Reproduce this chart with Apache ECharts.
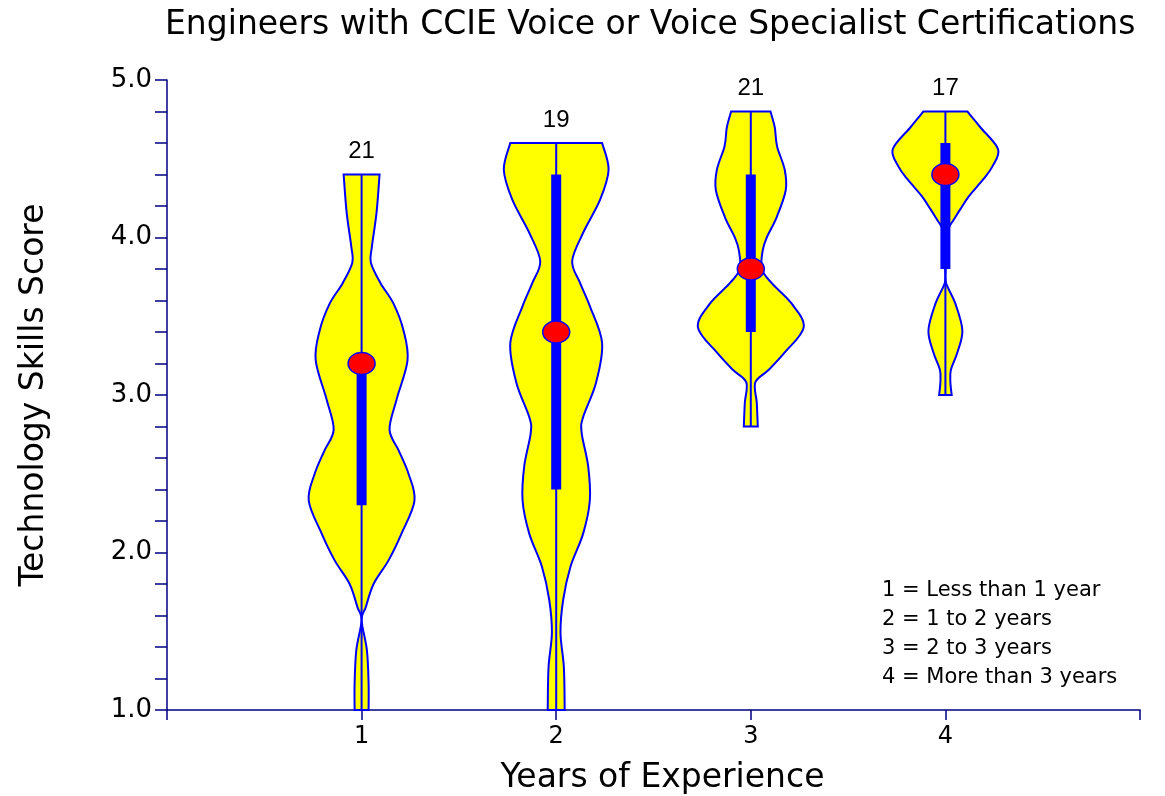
<!DOCTYPE html>
<html><head><meta charset="utf-8">
<script src="https://cdn.jsdelivr.net/npm/echarts@6/dist/echarts.min.js"></script>
<style>html,body{margin:0;padding:0;background:#fff}#c{width:1165px;height:796px}</style>
</head><body><div id="c"></div>
<script>
// ---- data ----
const groups = [1, 2, 3, 4];
const counts = [21, 19, 21, 17];
const mins = [1.0, 1.0, 2.8, 3.0];
const q1s = [2.3, 2.4, 3.4, 3.8];
const medians = [3.2, 3.4, 3.8, 4.4];
const q3s = [3.2, 4.4, 4.4, 4.6];
const maxs = [4.4, 4.6, 4.8, 4.8];
// [score, relative density (half width)]
const density1 = [[1.0,7],[1.17,7],[1.38,5.3],[1.57,0],[1.65,4],[1.80,12],[1.95,27],[2.12,40],[2.33,53],[2.50,47],[2.65,37],[2.78,28],[2.97,35],[3.22,46],[3.41,42],[3.58,32],[3.71,19],[3.84,9.3],[3.94,10.3],[4.16,15],[4.40,18]];
const density2 = [[1.0,8.5],[1.27,7.7],[1.49,4.3],[1.70,7],[1.91,14.3],[2.12,27],[2.33,33.7],[2.55,32],[2.76,25.5],[2.86,27],[3.08,40],[3.33,46],[3.56,34],[3.71,24],[3.85,16],[4.03,27],[4.24,44],[4.43,52.5],[4.60,46]];
const density3 = [[2.80,7],[2.95,6],[3.08,4.5],[3.16,18],[3.27,34],[3.43,53],[3.58,41],[3.71,21],[3.80,11],[3.92,12],[4.0,16],[4.13,26],[4.30,35],[4.43,34],[4.58,26.3],[4.70,24],[4.80,19.7]];
const density4 = [[3.0,6.3],[3.08,5],[3.16,5.5],[3.27,12],[3.41,17],[3.58,10],[3.69,2],[3.75,0],[4.0,0],[4.07,4],[4.11,8],[4.18,15],[4.26,23.3],[4.37,38],[4.45,47],[4.56,52.8],[4.70,35],[4.80,22]];
const densities = [density1, density2, density3, density4];
const xTickLabels = ['', '1', '2', '3', '4', ''];
const legendLines = ['1 = Less than 1 year', '2 = 1 to 2 years', '3 = 2 to 3 years', '4 = More than 3 years'];
const titleText = 'Engineers with CCIE Voice or Voice Specialist Certifications';
const xName = 'Years of Experience';
const yName = 'Technology Skills Score';

// ---- style ----
const FONT = '"DejaVu Sans", sans-serif';
const FONT2 = '"Liberation Sans", Arial, sans-serif';
const AXIS_COLOR = '#000080';
const BLUE = '#0000ff';
const DENS_SCALE = 1 / 195; // density unit -> x-axis units

function spline(pts) {
  let d = '';
  for (let i = 0; i < pts.length - 1; i++) {
    const p0 = pts[Math.max(i - 1, 0)], p1 = pts[i], p2 = pts[i + 1], p3 = pts[Math.min(i + 2, pts.length - 1)];
    const c1 = [p1[0] + (p2[0] - p0[0]) / 6, p1[1] + (p2[1] - p0[1]) / 6];
    const c2 = [p2[0] - (p3[0] - p1[0]) / 6, p2[1] - (p3[1] - p1[1]) / 6];
    d += ' C ' + c1[0] + ' ' + c1[1] + ' ' + c2[0] + ' ' + c2[1] + ' ' + p2[0] + ' ' + p2[1];
  }
  return d;
}

const chart = echarts.init(document.getElementById('c'), null, {renderer: 'canvas'});
chart.setOption({
  animation: false,
  backgroundColor: '#fff',
  title: {
    text: titleText, left: 160, top: 4,
    textStyle: {fontFamily: FONT, fontSize: 33, fontWeight: 'normal', color: '#000'}
  },
  grid: {left: 167, right: 25, top: 80, bottom: 86, containLabel: false, outerBoundsMode: 'none'},
  xAxis: {
    type: 'value', min: 0, max: 5, interval: 1,
    name: xName, nameLocation: 'middle', nameGap: 52,
    nameTextStyle: {fontFamily: FONT, fontSize: 33, color: '#000', padding: [0, 0, 0, 18]},
    axisLine: {show: true, lineStyle: {color: AXIS_COLOR, width: 1.5}},
    axisTick: {show: true, length: 10, lineStyle: {color: AXIS_COLOR, width: 1.5}},
    axisLabel: {formatter: v => xTickLabels[Math.round(v)], fontFamily: FONT, fontSize: 24, color: '#000', margin: 15},
    splitLine: {show: false}
  },
  yAxis: {
    type: 'value', min: 1, max: 5, interval: 1,
    name: yName, nameLocation: 'middle', nameGap: 116, nameRotate: 90,
    nameTextStyle: {fontFamily: FONT, fontSize: 33, color: '#000'},
    axisLine: {show: true, lineStyle: {color: AXIS_COLOR, width: 1.5}},
    axisTick: {show: true, length: 12, lineStyle: {color: AXIS_COLOR, width: 1.5}},
    minorTick: {show: true, splitNumber: 5, length: 12, lineStyle: {color: AXIS_COLOR, width: 1.5}},
    axisLabel: {formatter: v => v.toFixed(1), fontFamily: FONT, fontSize: 26, color: '#000', margin: 15},
    splitLine: {show: false}
  },
  graphic: legendLines.map((t, i) => ({
    type: 'text', left: 882, top: 580 + i * 29,
    style: {text: t, font: '21px ' + FONT, fill: '#000'}
  })),
  series: [{
    type: 'custom',
    data: groups.map((g, i) => [g, i]),
    clip: false,
    renderItem: function (params, api) {
      const c = api.value(0);
      const i = api.value(1);
      const dens = densities[i];
      const left = dens.map(p => api.coord([c - p[1] * DENS_SCALE, p[0]]));
      const right = dens.map(p => api.coord([c + p[1] * DENS_SCALE, p[0]])).reverse();
      const d = 'M ' + left[0][0] + ' ' + left[0][1] + spline(left) +
        ' L ' + right[0][0] + ' ' + right[0][1] + spline(right) + ' Z';
      const pMin = api.coord([c, mins[i]]);
      const pMax = api.coord([c, maxs[i]]);
      const pQ1 = api.coord([c, q1s[i]]);
      const pQ3 = api.coord([c, q3s[i]]);
      const pMed = api.coord([c, medians[i]]);
      return {
        type: 'group',
        children: [
          {type: 'path', shape: {pathData: d}, style: {fill: '#ffff00', stroke: BLUE, lineWidth: 2}},
          {type: 'line', shape: {x1: pMin[0], y1: pMin[1], x2: pMax[0], y2: pMax[1]}, style: {stroke: BLUE, lineWidth: 2}},
          {type: 'rect', shape: {x: pQ3[0] - 5, y: pQ3[1], width: 10, height: pQ1[1] - pQ3[1]}, style: {fill: BLUE}},
          {type: 'ellipse', shape: {cx: pMed[0], cy: pMed[1], rx: 13.5, ry: 11}, style: {fill: '#ff0000', stroke: BLUE, lineWidth: 1.5}},
          {type: 'text', x: pMax[0], y: pMax[1] - 23, style: {text: String(counts[i]), font: '24px ' + FONT2, fill: '#000', textAlign: 'center', textVerticalAlign: 'middle'}}
        ]
      };
    }
  }]
});
</script>
</body></html>
